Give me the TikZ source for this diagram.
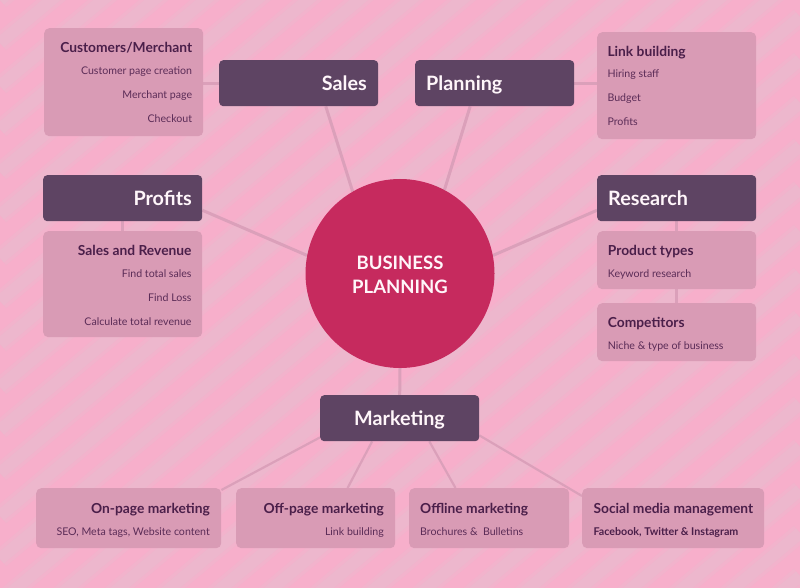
\documentclass[tikz,border=0pt]{standalone}
\usepackage{fontspec}
\setmainfont{Lato}
\usetikzlibrary{calc}
\pgfdeclarelayer{bg}
\pgfdeclarelayer{back}
\pgfsetlayers{bg,back,main}
\definecolor{bgpink}{HTML}{F7AFCB}
\definecolor{stripecol}{HTML}{EDB7CD}
\definecolor{stripemid}{HTML}{F2B3CC}
\definecolor{darkbox}{HTML}{5E4463}
\definecolor{lightbox}{HTML}{D99BB5}
\definecolor{conncol}{HTML}{DBA0BA}
\definecolor{titlecol}{HTML}{4B1F4A}
\definecolor{subcol}{HTML}{5B2C57}
\definecolor{circlecol}{HTML}{C62A5E}
\definecolor{whitetext}{HTML}{FFF6FA}
\tikzset{
  stripeline/.style={draw=stripecol, line width=12pt},
  stripesoft/.style={draw=stripemid, line width=19pt},
  dbox/.style={rectangle, fill=darkbox, rounded corners=4pt, inner sep=0pt, anchor=north west},
  lbox/.style={rectangle, fill=lightbox, rounded corners=5pt, inner sep=0pt, anchor=north west},
  dtext/.style={inner sep=0pt, text=whitetext, font=\fontsize{19.8}{24}\selectfont\bfseries},
  ltitle/.style={inner sep=0pt, text=titlecol, font=\fontsize{13.8}{17}\selectfont\bfseries},
  lsub/.style={inner sep=0pt, text=subcol, font=\fontsize{10.6}{13}\selectfont},
  lsubb/.style={inner sep=0pt, text=titlecol, font=\fontsize{10.7}{13}\selectfont\bfseries},
  ctext/.style={inner sep=0pt, text=whitetext, font=\fontsize{18.5}{24}\selectfont\bfseries},
  conn/.style={draw=conncol, line width=3pt},
  connthin/.style={draw=conncol, line width=2.2pt},
}
\begin{document}
\begin{tikzpicture}[x=1pt,y=-1pt]
\useasboundingbox (0,0) rectangle (800,588);
\begin{pgfonlayer}{bg}
\fill[bgpink] (0,0) rectangle (800,588);
\begin{scope}
\clip (0,0) rectangle (800,588);
\foreach \k in {-2,...,32} {
  \draw[stripesoft] (0,\k*43) -- (800,\k*43-671);
  \draw[stripeline] (0,\k*43) -- (800,\k*43-671);
}
\end{scope}
\end{pgfonlayer}

% centre
\node[circle, fill=circlecol, minimum size=189pt, inner sep=0pt] (circ) at (400,273.5) {};

% dark boxes
\node[dbox, minimum width=159pt, minimum height=46pt] (sales) at (219,60) {};
\node[dbox, minimum width=159pt, minimum height=46pt] (plan) at (415,60) {};
\node[dbox, minimum width=159pt, minimum height=46pt] (prof) at (43,175) {};
\node[dbox, minimum width=159pt, minimum height=46pt] (res) at (597,175) {};
\node[dbox, minimum width=159pt, minimum height=46pt] (mkt) at (320,395) {};

% light boxes
\node[lbox, minimum width=159pt, minimum height=108pt] (cust) at (44,28) {};
\node[lbox, minimum width=159pt, minimum height=107pt] (link) at (597,32) {};
\node[lbox, minimum width=159pt, minimum height=106pt] (sar) at (43,231) {};
\node[lbox, minimum width=159pt, minimum height=58pt] (prod) at (597,231) {};
\node[lbox, minimum width=159pt, minimum height=58pt] (comp) at (597,303) {};
\node[lbox, minimum width=185pt, minimum height=60pt] (onp) at (36,488) {};
\node[lbox, minimum width=159pt, minimum height=60pt] (offp) at (236,488) {};
\node[lbox, minimum width=160pt, minimum height=60pt] (offl) at (409,488) {};
\node[lbox, minimum width=182pt, minimum height=60pt] (soc) at (582,488) {};

% connectors
\begin{pgfonlayer}{back}
\draw[conn] ($(sales.south west)!0.67!(sales.south east)$) -- (circ.120);
\draw[conn] ($(plan.south west)!0.346!(plan.south east)$) -- (circ.62);
\draw[conn] ($(prof.south east)!0.24!(prof.north east)$) -- (circ.169);
\draw[conn] ($(res.south west)!0.24!(res.north west)$) -- (circ.11);
\draw[conn] (circ.south) -- (mkt.north);
\draw[conn] (sales.west) -- (sales.west -| cust.east);
\draw[conn] (plan.east) -- (plan.east -| link.west);
\draw[conn] (prof.south) -- (sar.north);
\draw[conn] (res.south) -- (prod.north);
\draw[conn] (prod.south) -- (comp.north);
\draw[connthin] ($(mkt.south west)+(0,-4)$) -- ($(onp.north east)+(0,2)$);
\draw[connthin] ($(mkt.south west)!0.327!(mkt.south east)$) -- ($(offp.north west)!0.70!(offp.north east)$);
\draw[connthin] ($(mkt.south west)!0.686!(mkt.south east)$) -- ($(offl.north west)!0.29!(offl.north east)$);
\draw[connthin] ($(mkt.south east)+(0,-6)$) -- ($(soc.north west)+(0,8)$);
\end{pgfonlayer}

% centre text
\node[ctext, anchor=base] (bt1) at (400,269.3) {BUSINESS};
\node[ctext, anchor=base] (bt2) at (400,293.3) {PLANNING};

% dark box texts
\node[dtext, anchor=base east] (salesT) at (367,90.5) {Sales};
\node[dtext, anchor=base west] (planT) at (426,90.5) {Planning};
\node[dtext, anchor=base east] (profT) at (192,205.5) {Profits};
\node[dtext, anchor=base west] (resT) at (608,205.5) {Research};
\node[dtext, anchor=base] (mktT) at (399.5,425.5) {Marketing};

% customers
\node[ltitle, anchor=base east] (c0) at (192.3,52.5) {Customers/Merchant};
\node[lsub, anchor=base east] (c1) at (192.3,75) {Customer page creation};
\node[lsub, anchor=base east] (c2) at (192.3,99) {Merchant page};
\node[lsub, anchor=base east] (c3) at (192.3,123) {Checkout};
% link building
\node[ltitle, anchor=base west] (l0) at (607.3,56.5) {Link building};
\node[lsub, anchor=base west] (l1) at (607.3,78) {Hiring staff};
\node[lsub, anchor=base west] (l2) at (607.3,102) {Budget};
\node[lsub, anchor=base west] (l3) at (607.3,126) {Profits};
% sales and revenue
\node[ltitle, anchor=base east] (s0) at (191.7,255) {Sales and Revenue};
\node[lsub, anchor=base east] (s1) at (191.7,277) {Find total sales};
\node[lsub, anchor=base east] (s2) at (191.7,301) {Find Loss};
\node[lsub, anchor=base east] (s3) at (191.7,325) {Calculate total revenue};
% product types
\node[ltitle, anchor=base west] (p0) at (607.7,255) {Product types};
\node[lsub, anchor=base west] (p1) at (607.7,277) {Keyword research};
% competitors
\node[ltitle, anchor=base west] (k0) at (607.7,327) {Competitors};
\node[lsub, anchor=base west] (k1) at (607.7,349) {Niche \& type of business};
% bottom
\node[ltitle, anchor=base east] (o0) at (210,513) {On-page marketing};
\node[lsub, anchor=base east] (o1) at (210,535) {SEO, Meta tags, Website content};
\node[ltitle, anchor=base east] (f0) at (384,513) {Off-page marketing};
\node[lsub, anchor=base east] (f1) at (384,535) {Link building};
\node[ltitle, anchor=base west] (n0) at (420,513) {Offline marketing};
\node[lsub, anchor=base west] (n1) at (420,535) {Brochures \&\ \ Bulletins};
\node[ltitle, anchor=base west] (m0) at (593.3,513) {Social media management};
\node[lsubb, anchor=base west] (m1) at (593.3,535) {Facebook, Twitter \& Instagram};
\end{tikzpicture}
\end{document}
